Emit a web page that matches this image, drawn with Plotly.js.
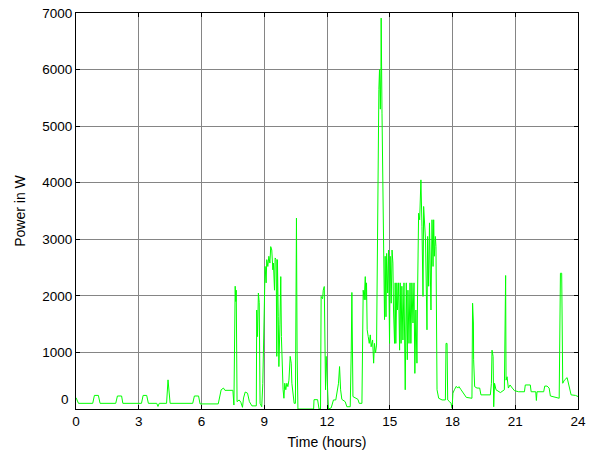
<!DOCTYPE html>
<html>
<head>
<meta charset="utf-8">
<script src="https://cdn.plot.ly/plotly-3.0.1.min.js"></script>
<style>html,body{margin:0;padding:0;background:#fff;}#chart{width:592px;height:453px;}</style>
</head>
<body>
<div id="chart"></div>
<script>
// Time of day (hours)
const timeHours = [
0,0.12,0.80,0.88,1.07,1.15,1.90,1.98,2.18,2.24,3.13,3.21,3.38,3.46,3.86,3.92,3.98,4.33,4.40,4.45,4.50,
5.58,5.66,5.86,5.93,6.80,6.94,7.05,7.12,7.50,7.55,7.61,7.64,7.66,7.70,7.80,7.88,7.96,8.01,8.09,8.20,8.29,8.41,
8.62,8.64,8.68,8.72,8.76,8.80,8.88,8.93,9.00,9.04,9.09,9.12,9.17,9.22,9.27,9.31,9.36,9.41,9.44,9.49,9.52,9.57,
9.60,9.63,9.67,9.70,9.75,9.79,9.82,9.86,9.90,9.94,9.98,10.03,10.08,10.13,10.18,10.24,10.29,10.32,10.37,10.43,
10.49,10.54,10.57,10.61,11.36,11.38,11.55,11.62,11.69,11.72,11.79,11.82,11.87,11.90,11.93,11.96,12.01,12.07,
12.20,12.31,12.42,12.55,12.60,12.65,12.71,12.87,12.95,13.11,13.16,13.19,13.24,13.35,13.48,13.54,13.67,13.73,
13.78,13.83,13.86,13.89,13.92,13.97,14.02,14.07,14.11,14.18,14.23,14.27,14.32,14.37,14.40,14.43,14.45,14.48,
14.51,14.55,14.58,14.59,14.63,14.66,14.69,14.72,14.75,14.78,14.82,14.85,14.90,14.94,14.99,15.02,15.07,15.11,
15.15,15.18,15.23,15.26,15.29,15.34,15.37,15.42,15.47,15.50,15.54,15.58,15.63,15.68,15.71,15.74,15.79,15.84,
15.87,15.92,15.97,16.01,16.06,16.11,16.16,16.20,16.25,16.30,16.33,16.38,16.43,16.49,16.54,16.59,16.62,16.67,
16.71,16.78,16.81,16.86,16.90,16.97,17.02,17.07,17.10,17.13,17.18,17.21,17.26,17.34,17.50,17.66,17.69,17.74,
17.77,17.86,17.93,17.98,18.02,18.09,18.18,18.25,18.31,18.41,18.53,18.66,18.93,18.96,19.00,19.01,19.06,19.17,
19.30,19.36,19.81,19.86,19.89,19.94,19.97,20.01,20.08,20.29,20.48,20.51,20.54,20.56,20.61,20.67,20.75,20.86,
20.96,21.16,21.44,21.48,21.72,21.76,21.98,22.01,22.04,22.36,22.41,22.52,22.62,22.68,23.00,23.10,23.16,23.22,
23.27,23.35,23.48,23.56,23.67,23.88,24.00
];
// Power (W)
const powerW = [
200,100,100,240,240,100,100,230,230,100,100,240,240,100,100,45,100,100,515,220,100,
100,230,230,90,90,340,370,330,330,70,2170,1900,2100,130,160,120,30,195,300,280,130,55,
55,1750,1280,2050,1880,100,40,450,1750,2520,2230,2640,2520,2700,2580,2870,2810,2460,2580,2100,2670,2640,
930,2640,1630,750,1500,2340,1280,750,340,190,455,340,455,395,510,930,810,455,220,100,
100,3375,1040,0,0,165,165,0,0,1990,1950,2100,2165,1280,340,930,455,0,
20,160,160,455,750,340,170,130,40,40,1040,2060,220,200,170,100,100,2100,
1930,2340,1930,2230,1400,1280,1160,1310,1100,1220,810,1160,990,1130,2460,4580,4230,5650,
6000,5300,6060,6910,5230,4350,4300,2460,1580,2700,1630,2750,2050,2810,1160,2700,1870,2810,
2580,1750,1160,2230,1160,2230,1750,2230,1040,2230,1160,2170,1220,2230,1400,340,2230,870,
2100,1160,2230,1160,2230,1520,2230,630,1750,810,2050,3460,3345,4050,3230,1990,3580,3230,
2990,1400,3050,2170,3290,1750,3345,2520,3345,2700,3050,2870,340,190,160,160,1160,1160,
160,130,100,12,280,340,400,370,395,340,280,205,190,1870,1520,870,395,370,
370,250,250,455,1040,930,40,455,340,290,340,2360,2360,510,570,370,425,370,
325,305,305,425,425,305,305,150,305,305,405,405,370,230,205,190,2400,2400,
455,510,555,425,250,240,220
];
const xTicks = [0,3,6,9,12,15,18,21,24];
const yTicks = [0,1000,2000,3000,4000,5000,6000,7000];
const yTickText = ['', '1000','2000','3000','4000','5000','6000','7000'];

const font = 'Liberation Sans, Arial, sans-serif';
const trace = {
  x: timeHours, y: powerW, type: 'scatter', mode: 'lines',
  line: {color: '#00ff00', width: 1}, hoverinfo: 'skip'
};
const axisCommon = {
  showgrid: true, gridcolor: '#858585', gridwidth: 1,
  showline: true, linecolor: '#000', linewidth: 1, mirror: 'ticks',
  ticks: 'inside', ticklen: 4, tickcolor: '#000', zeroline: false,
  tickfont: {family: font, size: 13.5, color: '#000'}
};
const layout = {
  width: 592, height: 453,
  margin: {l: 76, r: 14, t: 13, b: 44},
  paper_bgcolor: '#fff', plot_bgcolor: '#fff',
  showlegend: false,
  xaxis: Object.assign({}, axisCommon, {
    range: [0, 24], tickmode: 'array', tickvals: xTicks, ticktext: xTicks.map(String),
    title: {text: 'Time (hours)', font: {family: font, size: 14, color: '#000'}, standoff: 8}
  }),
  yaxis: Object.assign({}, axisCommon, {
    range: [0, 7000], tickmode: 'array', tickvals: yTicks, ticktext: yTickText,
    title: {text: 'Power in W', font: {family: font, size: 14, color: '#000'}, standoff: 13}
  }),
  annotations: [{
    xref: 'paper', yref: 'y', x: 0, y: 0, xanchor: 'right', yanchor: 'middle',
    xshift: -5, yshift: 10, text: '0', showarrow: false,
    font: {family: font, size: 13.5, color: '#000'}
  }]
};
Plotly.newPlot('chart', [trace], layout, {staticPlot: true, displayModeBar: false});
</script>
</body>
</html>
